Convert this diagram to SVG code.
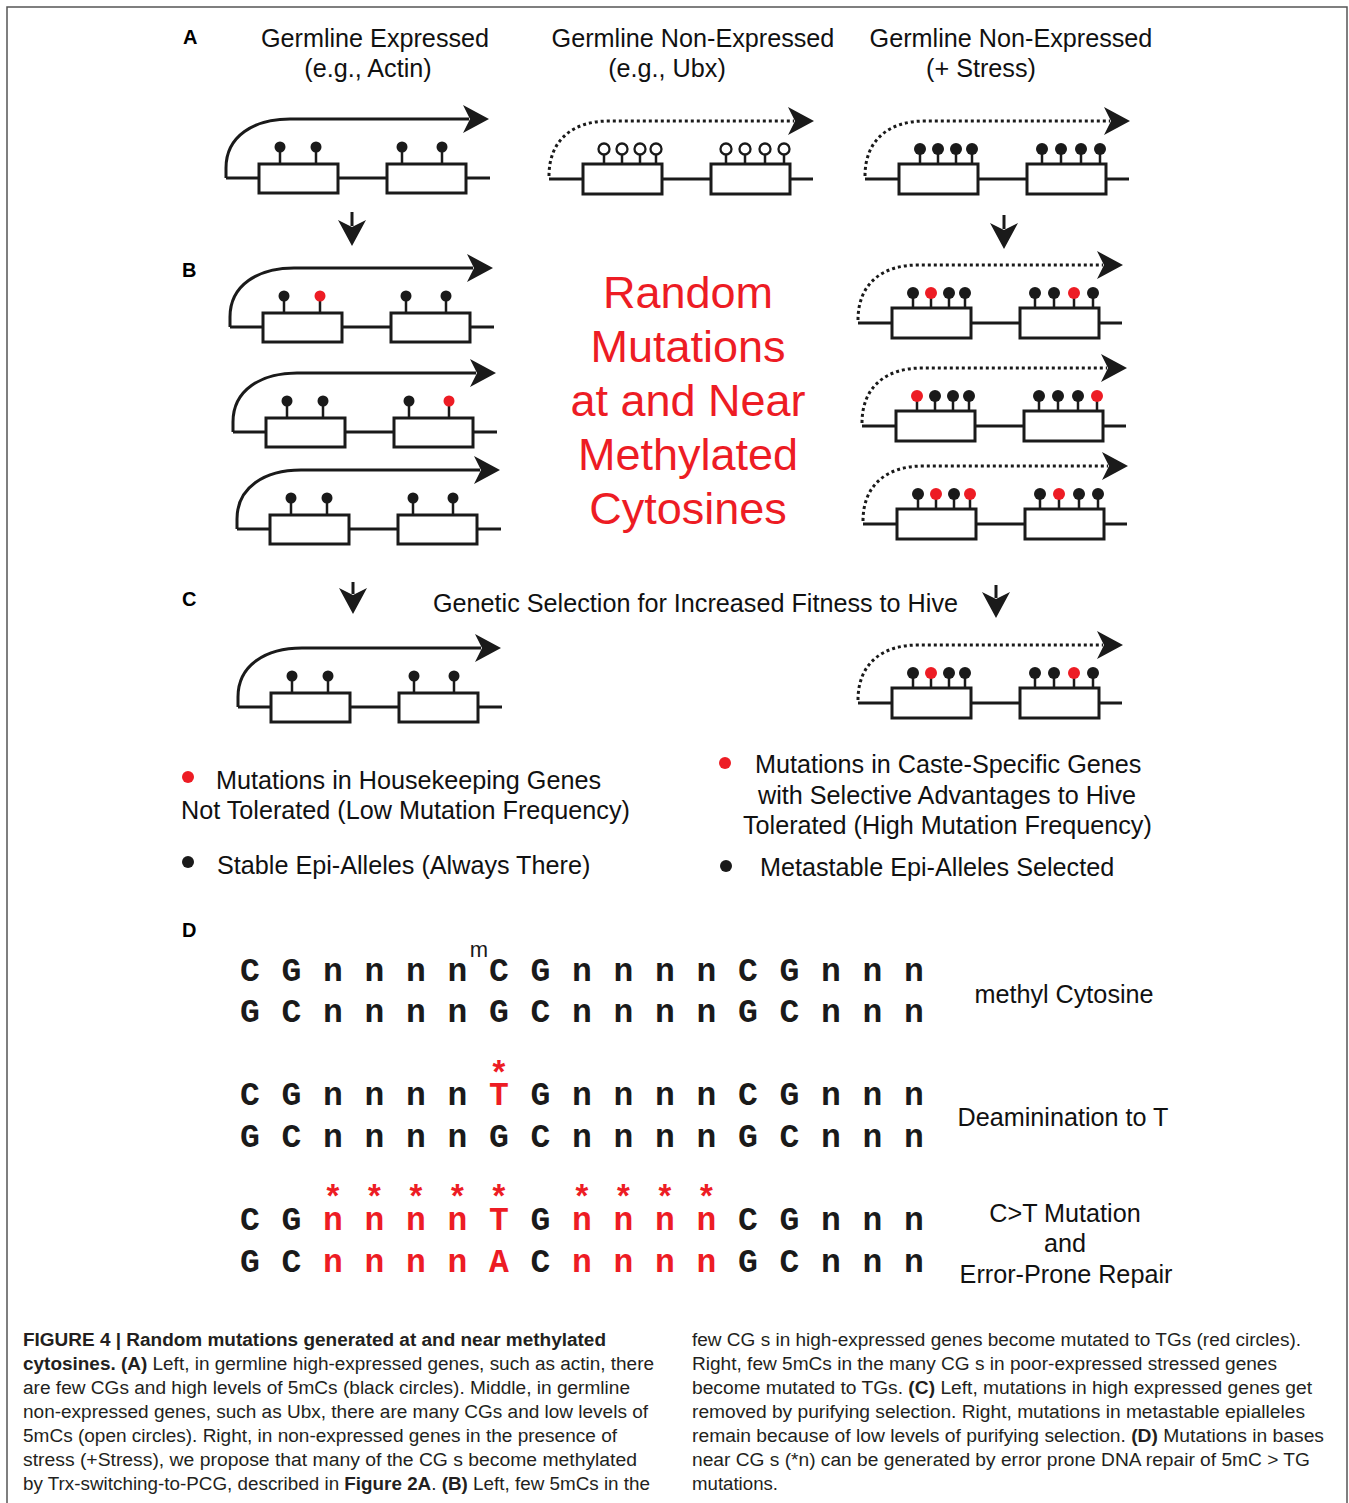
<svg xmlns="http://www.w3.org/2000/svg" xmlns:xlink="http://www.w3.org/1999/xlink" width="1349" height="1503" viewBox="0 0 1349 1503">
<style>
.bl{fill:none;stroke:#1a1a1a;stroke-width:3}
.tx{fill:none;stroke:#1a1a1a;stroke-width:3}
.dt{fill:none;stroke:#1a1a1a;stroke-width:3;stroke-dasharray:3 3}
.bx{fill:#fff;stroke:#1a1a1a;stroke-width:3}
.st{fill:none;stroke:#1a1a1a;stroke-width:2.5}
.k{fill:#1a1a1a}
.r{fill:#ed1c24}
.o{fill:#fff;stroke:#1a1a1a;stroke-width:2.3}
.sec{font-family:"Liberation Sans",Arial,sans-serif;font-weight:bold;font-size:20px;fill:#000}
.lab{font-family:"Liberation Sans",Arial,sans-serif;font-size:25.2px;fill:#111}
.big{font-family:"Liberation Sans",Arial,sans-serif;font-size:45px;fill:#ed1c24;text-anchor:middle}
.seq{font-family:"Liberation Mono","Courier New",monospace;font-weight:bold;font-size:33px;fill:#1a1a1a;text-anchor:middle}
.red{fill:#ed1c24}
.cap{font-family:"Liberation Sans",Arial,sans-serif;font-size:18px;fill:#231f20}
.b{font-weight:bold}
.arr{fill:none;stroke:#1a1a1a;stroke-width:3}
</style>
<defs>
<marker id="ah" viewBox="0 0 26 28" refX="6" refY="14" markerWidth="26" markerHeight="28" markerUnits="userSpaceOnUse" orient="auto">
<path d="M0,0 L26,14 L0,28 L7,14 Z" fill="#1a1a1a"/>
</marker>
<g id="tplSolid">
<path class="tx" d="M0,0 V-10 C0,-42 28,-59 64,-59 H243" marker-end="url(#ah)"/>
<path class="bl" d="M0,0 H264"/>
<path class="st" d="M54,-14V-31 M90,-14V-31 M176,-14V-31 M216,-14V-31"/>
<rect class="bx" x="33" y="-14" width="79" height="29"/>
<rect class="bx" x="161" y="-14" width="79" height="29"/>
</g>
<g id="tplDot">
<path class="dt" d="M0,-3 C0,-40 25,-58 60,-58 H245" marker-end="url(#ah)"/>
<path class="bl" d="M0,0 H264"/>
<path class="st" d="M55,-15V-30 M73,-15V-30 M91,-15V-30 M107,-15V-30 M177,-15V-30 M196,-15V-30 M216,-15V-30 M235,-15V-30"/>
<rect class="bx" x="34" y="-15" width="79" height="30"/>
<rect class="bx" x="162" y="-15" width="79" height="30"/>
</g>
</defs>
<rect x="7" y="7" width="1340" height="1510" fill="none" stroke="#555" stroke-width="1.5"/>

<!-- section labels and headers -->
<text class="sec" x="183" y="44">A</text>
<text class="sec" x="182" y="277">B</text>
<text class="sec" x="182" y="606">C</text>
<text class="sec" x="182" y="937">D</text>
<g id="headers" class="lab" text-anchor="middle">
<text x="375" y="47">Germline Expressed</text>
<text x="368" y="77">(e.g., Actin)</text>
<text x="693" y="47">Germline Non-Expressed</text>
<text x="667" y="77">(e.g., Ubx)</text>
<text x="1011" y="47">Germline Non-Expressed</text>
<text x="981" y="77">(+ Stress)</text>
</g>

<!-- A genes -->
<g id="geneA1" transform="translate(226,178)">
<use xlink:href="#tplSolid"/>
<circle class="k" cx="54" cy="-31" r="5.5"/><circle class="k" cx="90" cy="-31" r="5.5"/>
<circle class="k" cx="176" cy="-31" r="5.5"/><circle class="k" cx="216" cy="-31" r="5.5"/>
</g>
<g id="geneA2" transform="translate(549,179)">
<use xlink:href="#tplDot"/>
<circle class="o" cx="55" cy="-30" r="5.5"/><circle class="o" cx="73" cy="-30" r="5.5"/><circle class="o" cx="91" cy="-30" r="5.5"/><circle class="o" cx="107" cy="-30" r="5.5"/>
<circle class="o" cx="177" cy="-30" r="5.5"/><circle class="o" cx="196" cy="-30" r="5.5"/><circle class="o" cx="216" cy="-30" r="5.5"/><circle class="o" cx="235" cy="-30" r="5.5"/>
</g>
<g id="geneA3" transform="translate(865,179)">
<use xlink:href="#tplDot"/>
<circle class="k" cx="55" cy="-30" r="6"/><circle class="k" cx="73" cy="-30" r="6"/><circle class="k" cx="91" cy="-30" r="6"/><circle class="k" cx="107" cy="-30" r="6"/>
<circle class="k" cx="177" cy="-30" r="6"/><circle class="k" cx="196" cy="-30" r="6"/><circle class="k" cx="216" cy="-30" r="6"/><circle class="k" cx="235" cy="-30" r="6"/>
</g>

<!-- B left -->
<g id="geneB1" transform="translate(230,327)">
<use xlink:href="#tplSolid"/>
<circle class="k" cx="54" cy="-31" r="5.5"/><circle class="r" cx="90" cy="-31" r="5.5"/>
<circle class="k" cx="176" cy="-31" r="5.5"/><circle class="k" cx="216" cy="-31" r="5.5"/>
</g>
<g id="geneB2" transform="translate(233,432)">
<use xlink:href="#tplSolid"/>
<circle class="k" cx="54" cy="-31" r="5.5"/><circle class="k" cx="90" cy="-31" r="5.5"/>
<circle class="k" cx="176" cy="-31" r="5.5"/><circle class="r" cx="216" cy="-31" r="5.5"/>
</g>
<g id="geneB3" transform="translate(237,529)">
<use xlink:href="#tplSolid"/>
<circle class="k" cx="54" cy="-31" r="5.5"/><circle class="k" cx="90" cy="-31" r="5.5"/>
<circle class="k" cx="176" cy="-31" r="5.5"/><circle class="k" cx="216" cy="-31" r="5.5"/>
</g>

<!-- B right -->
<g id="geneB4" transform="translate(858,323)">
<use xlink:href="#tplDot"/>
<circle class="k" cx="55" cy="-30" r="6"/><circle class="r" cx="73" cy="-30" r="6"/><circle class="k" cx="91" cy="-30" r="6"/><circle class="k" cx="107" cy="-30" r="6"/>
<circle class="k" cx="177" cy="-30" r="6"/><circle class="k" cx="196" cy="-30" r="6"/><circle class="r" cx="216" cy="-30" r="6"/><circle class="k" cx="235" cy="-30" r="6"/>
</g>
<g id="geneB5" transform="translate(862,426)">
<use xlink:href="#tplDot"/>
<circle class="r" cx="55" cy="-30" r="6"/><circle class="k" cx="73" cy="-30" r="6"/><circle class="k" cx="91" cy="-30" r="6"/><circle class="k" cx="107" cy="-30" r="6"/>
<circle class="k" cx="177" cy="-30" r="6"/><circle class="k" cx="196" cy="-30" r="6"/><circle class="k" cx="216" cy="-30" r="6"/><circle class="r" cx="235" cy="-30" r="6"/>
</g>
<g id="geneB6" transform="translate(863,524)">
<use xlink:href="#tplDot"/>
<circle class="k" cx="55" cy="-30" r="6"/><circle class="r" cx="73" cy="-30" r="6"/><circle class="k" cx="91" cy="-30" r="6"/><circle class="r" cx="107" cy="-30" r="6"/>
<circle class="k" cx="177" cy="-30" r="6"/><circle class="r" cx="196" cy="-30" r="6"/><circle class="k" cx="216" cy="-30" r="6"/><circle class="k" cx="235" cy="-30" r="6"/>
</g>

<g id="bigText" class="big">
<text x="688" y="308">Random</text>
<text x="688" y="362">Mutations</text>
<text x="688" y="416">at and Near</text>
<text x="688" y="470">Methylated</text>
<text x="688" y="524">Cytosines</text>
</g>

<!-- C -->
<text class="lab" x="433" y="612">Genetic Selection for Increased Fitness to Hive</text>
<g id="geneC1" transform="translate(238,707)">
<use xlink:href="#tplSolid"/>
<circle class="k" cx="54" cy="-31" r="5.5"/><circle class="k" cx="90" cy="-31" r="5.5"/>
<circle class="k" cx="176" cy="-31" r="5.5"/><circle class="k" cx="216" cy="-31" r="5.5"/>
</g>
<g id="geneC2" transform="translate(858,703)">
<use xlink:href="#tplDot"/>
<circle class="k" cx="55" cy="-30" r="6"/><circle class="r" cx="73" cy="-30" r="6"/><circle class="k" cx="91" cy="-30" r="6"/><circle class="k" cx="107" cy="-30" r="6"/>
<circle class="k" cx="177" cy="-30" r="6"/><circle class="k" cx="196" cy="-30" r="6"/><circle class="r" cx="216" cy="-30" r="6"/><circle class="k" cx="235" cy="-30" r="6"/>
</g>

<!-- connectors (down arrows) -->
<g id="connectors">
<path class="arr" d="M352,212 V226" marker-end="url(#ah)"/>
<path class="arr" d="M1004,215 V229" marker-end="url(#ah)"/>
<path class="arr" d="M353,582 V594" marker-end="url(#ah)"/>
<path class="arr" d="M996,585 V598" marker-end="url(#ah)"/>
</g>

<!-- legends -->
<g id="legendLeft" class="lab">
<circle class="r" cx="188" cy="777" r="6"/>
<text x="216" y="789">Mutations in Housekeeping Genes</text>
<text x="181" y="819">Not Tolerated (Low Mutation Frequency)</text>
<circle class="k" cx="188" cy="862" r="6"/>
<text x="217" y="874">Stable Epi-Alleles (Always There)</text>
</g>
<g id="legendRight" class="lab">
<circle class="r" cx="725" cy="763" r="6"/>
<text x="755" y="773">Mutations in Caste-Specific Genes</text>
<text x="758" y="804">with Selective Advantages to Hive</text>
<text x="743" y="834">Tolerated (High Mutation Frequency)</text>
<circle class="k" cx="726" cy="866" r="6"/>
<text x="760" y="876">Metastable Epi-Alleles Selected</text>
</g>

<!-- D sequences -->
<g id="sequences">
<text class="seq" y="981"><tspan x="479" y="957" style="font-family:'Liberation Sans',Arial,sans-serif;font-weight:normal;font-size:22px">m</tspan><tspan y="981" x="250 291.5 333 374.5 416 457.5 499 540.5 582 623.5 665 706.5 748 789.5 831 872.5 914">CGnnnnCGnnnnCGnnn</tspan></text>
<text class="seq" y="1022" x="250 291.5 333 374.5 416 457.5 499 540.5 582 623.5 665 706.5 748 789.5 831 872.5 914">GCnnnnGCnnnnGCnnn</text>
<text class="seq" y="1105"><tspan class="red" x="499" y="1084">*</tspan><tspan y="1105" x="250 291.5 333 374.5 416 457.5">CGnnnn</tspan><tspan class="red" x="499">T</tspan><tspan x="540.5 582 623.5 665 706.5 748 789.5 831 872.5 914">GnnnnCGnnn</tspan></text>
<text class="seq" y="1147" x="250 291.5 333 374.5 416 457.5 499 540.5 582 623.5 665 706.5 748 789.5 831 872.5 914">GCnnnnGCnnnnGCnnn</text>
<text class="seq" y="1230"><tspan class="red" y="1208" x="333 374.5 416 457.5 499 582 623.5 665 706.5">*********</tspan><tspan y="1230" x="250 291.5">CG</tspan><tspan class="red" x="333 374.5 416 457.5 499">nnnnT</tspan><tspan x="540.5">G</tspan><tspan class="red" x="582 623.5 665 706.5">nnnn</tspan><tspan x="748 789.5 831 872.5 914">CGnnn</tspan></text>
<text class="seq" y="1272"><tspan x="250 291.5">GC</tspan><tspan class="red" x="333 374.5 416 457.5 499">nnnnA</tspan><tspan x="540.5">C</tspan><tspan class="red" x="582 623.5 665 706.5">nnnn</tspan><tspan x="748 789.5 831 872.5 914">GCnnn</tspan></text>
</g>
<g id="dLabels" class="lab" text-anchor="middle">
<text x="1064" y="1003">methyl Cytosine</text>
<text x="1063" y="1126">Deaminination to T</text>
<text x="1065" y="1222">C&gt;T Mutation</text>
<text x="1065" y="1252">and</text>
<text x="1066" y="1283">Error-Prone Repair</text>
</g>

<!-- caption -->
<g id="caption" class="cap">
<text x="23" y="1346" textLength="583" lengthAdjust="spacingAndGlyphs" class="cap b">FIGURE 4 | Random mutations generated at and near methylated</text>
<text x="23" y="1370" textLength="631" lengthAdjust="spacingAndGlyphs"><tspan class="b">cytosines. (A)</tspan> Left, in germline high-expressed genes, such as actin, there</text>
<text x="23" y="1394" textLength="607" lengthAdjust="spacingAndGlyphs">are few CGs and high levels of 5mCs (black circles). Middle, in germline</text>
<text x="23" y="1418" textLength="625" lengthAdjust="spacingAndGlyphs">non-expressed genes, such as Ubx, there are many CGs and low levels of</text>
<text x="23" y="1442" textLength="594" lengthAdjust="spacingAndGlyphs">5mCs (open circles). Right, in non-expressed genes in the presence of</text>
<text x="23" y="1466" textLength="614" lengthAdjust="spacingAndGlyphs">stress (+Stress), we propose that many of the CG s become methylated</text>
<text x="23" y="1490" textLength="627" lengthAdjust="spacingAndGlyphs">by Trx-switching-to-PCG, described in <tspan class="b">Figure 2A</tspan>. <tspan class="b">(B)</tspan> Left, few 5mCs in the</text>
<text x="692" y="1346" textLength="609" lengthAdjust="spacingAndGlyphs">few CG s in high-expressed genes become mutated to TGs (red circles).</text>
<text x="692" y="1370" textLength="585" lengthAdjust="spacingAndGlyphs">Right, few 5mCs in the many CG s in poor-expressed stressed genes</text>
<text x="692" y="1394" textLength="620" lengthAdjust="spacingAndGlyphs">become mutated to TGs. <tspan class="b">(C)</tspan> Left, mutations in high expressed genes get</text>
<text x="692" y="1418" textLength="613" lengthAdjust="spacingAndGlyphs">removed by purifying selection. Right, mutations in metastable epialleles</text>
<text x="692" y="1442" textLength="632" lengthAdjust="spacingAndGlyphs">remain because of low levels of purifying selection. <tspan class="b">(D)</tspan> Mutations in bases</text>
<text x="692" y="1466" textLength="618" lengthAdjust="spacingAndGlyphs">near CG s (*n) can be generated by error prone DNA repair of 5mC &gt; TG</text>
<text x="692" y="1490" textLength="86" lengthAdjust="spacingAndGlyphs">mutations.</text>
</g>
</svg>
